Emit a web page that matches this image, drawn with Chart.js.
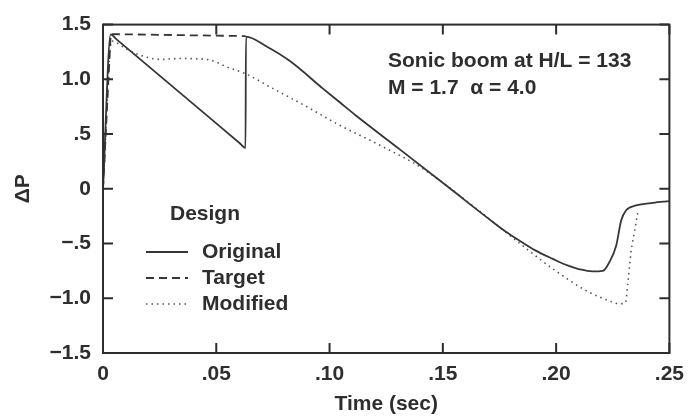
<!DOCTYPE html>
<html><head><meta charset="utf-8">
<script src="https://cdn.jsdelivr.net/npm/chart.js@4/dist/chart.umd.min.js"></script>
<style>html,body{margin:0;padding:0;background:#fff;}#wrap{width:693px;height:417px;}</style>
</head><body><div id="wrap"><canvas id="c" width="693" height="417"></canvas></div>
<script>
// ---- data ----
const originalT = [0, 0.0034, 0.0060, 0.0605, 0.0629, 0.0631, 0.0722, 0.0825, 0.0971, 0.1045, 0.1119, 0.1310, 0.1515, 0.1604, 0.1700, 0.1780, 0.1839, 0.1910, 0.1985, 0.2050, 0.2103, 0.2160, 0.2206, 0.2235, 0.2265, 0.2287, 0.2309, 0.2353, 0.2427, 0.2500];
const originalP = [0, 1.41, 1.365, 0.414, 0.372, 1.39, 1.30, 1.167, 0.915, 0.79, 0.665, 0.36, 0.03, -0.115, -0.27, -0.395, -0.475, -0.565, -0.64, -0.70, -0.735, -0.755, -0.75, -0.67, -0.52, -0.29, -0.196, -0.152, -0.128, -0.113];
const targetT = [0, 0.0034, 0.0630];
const targetP = [0, 1.413, 1.395];
const modifiedT = [0, 0.0038, 0.0097, 0.0156, 0.0259, 0.0330, 0.0406, 0.0479, 0.0552, 0.0626, 0.0751, 0.0898, 0.1045, 0.1192, 0.1295, 0.1368, 0.1471, 0.1604, 0.1780, 0.1883, 0.1985, 0.2132, 0.2230, 0.2280, 0.2306, 0.2316, 0.2331, 0.2345, 0.2360];
const modifiedP = [0, 1.35, 1.286, 1.226, 1.182, 1.19, 1.188, 1.173, 1.108, 1.054, 0.915, 0.752, 0.58, 0.43, 0.32, 0.24, 0.10, -0.11, -0.40, -0.57, -0.73, -0.93, -1.02, -1.05, -1.04, -0.87, -0.57, -0.40, -0.22];

const xTickValues = [0, 0.05, 0.10, 0.15, 0.20, 0.25];
const xTickLabels = ['0', '.05', '.10', '.15', '.20', '.25'];
const yTickValues = [-1.5, -1.0, -0.5, 0, 0.5, 1.0, 1.5];
const yTickLabels = ['\u22121.5', '\u22121.0', '\u2212.5', '0', '.5', '1.0', '1.5'];
const seriesNames = ['Original', 'Target', 'Modified'];
const legendTitle = 'Design';
const annotationLines = ['Sonic boom at H/L = 133', 'M = 1.7  \u03B1 = 4.0'];
const xTitle = 'Time (sec)';
const yTitle = '\u0394P';

// ---- styling ----
const ink = '#2e2e2e';
const FONT = "'Liberation Sans', Arial, Helvetica, sans-serif";
const FS = 21;
const toPts = (ts, ps) => ts.map((t, i) => ({x: t, y: ps[i]}));
const labelFor = (vals, labels, v) => {
  const i = vals.findIndex(u => Math.abs(u - v) < 1e-9);
  return i >= 0 ? labels[i] : '';
};

const framePlugin = {
  id: 'frame',
  afterDatasetsDraw(chart) {
    const {ctx, chartArea: a, scales} = chart;
    const x = scales.x, y = scales.y;
    ctx.save();
    ctx.strokeStyle = ink;
    ctx.lineWidth = 2;
    ctx.setLineDash([]);
    ctx.strokeRect(a.left, a.top, a.right - a.left, a.bottom - a.top);
    const L = 10;
    ctx.beginPath();
    xTickValues.forEach(v => {
      const px = x.getPixelForValue(v);
      ctx.moveTo(px, a.bottom); ctx.lineTo(px, a.bottom - L);
      ctx.moveTo(px, a.top); ctx.lineTo(px, a.top + L);
    });
    yTickValues.forEach(v => {
      const py = y.getPixelForValue(v);
      ctx.moveTo(a.left, py); ctx.lineTo(a.left + L, py);
      ctx.moveTo(a.right, py); ctx.lineTo(a.right - L, py);
    });
    ctx.stroke();

    // annotation
    ctx.fillStyle = ink;
    ctx.font = 'bold ' + FS + 'px ' + FONT;
    ctx.textAlign = 'left';
    ctx.textBaseline = 'middle';
    ctx.fillText(annotationLines[0], 388, 61);
    ctx.fillText(annotationLines[1], 388, 88);

    // legend
    ctx.fillText(legendTitle, 170, 214);
    const rows = [252, 278, 304];
    chart.data.datasets.forEach((ds, i) => {
      ctx.save();
      ctx.strokeStyle = ds.borderColor;
      ctx.lineWidth = ds.borderWidth;
      ctx.setLineDash(ds.borderDash || []);
      ctx.beginPath();
      ctx.moveTo(146, rows[i]); ctx.lineTo(188, rows[i]);
      ctx.stroke();
      ctx.restore();
      ctx.fillText(ds.label, 202, rows[i]);
    });
    ctx.restore();
  }
};

const tickFont = {family: FONT, size: FS, weight: 'bold', lineHeight: 1.2};

new Chart(document.getElementById('c'), {
  type: 'line',
  data: {
    datasets: [
      {label: seriesNames[0], data: toPts(originalT, originalP), borderColor: '#363636', borderWidth: 1.8, cubicInterpolationMode: 'monotone', pointRadius: 0},
      {label: seriesNames[1], data: toPts(targetT, targetP), borderColor: '#363636', borderWidth: 1.8, borderDash: [8, 5], tension: 0, pointRadius: 0},
      {label: seriesNames[2], data: toPts(modifiedT, modifiedP), borderColor: '#555555', borderWidth: 1.6, borderDash: [1.5, 4], cubicInterpolationMode: 'monotone', pointRadius: 0}
    ]
  },
  options: {
    responsive: false,
    devicePixelRatio: 1,
    animation: false,
    layout: {padding: {top: 16, right: 23, left: 0, bottom: 0}},
    plugins: {legend: {display: false}, tooltip: {enabled: false}},
    scales: {
      x: {
        type: 'linear', min: 0, max: 0.25,
        afterBuildTicks: s => { s.ticks = xTickValues.map(v => ({value: v})); },
        afterFit: s => { s.height = 64; },
        grid: {display: false, drawTicks: false},
        border: {display: false},
        ticks: {color: ink, padding: 9, maxRotation: 0, autoSkip: false, font: tickFont,
          callback: v => labelFor(xTickValues, xTickLabels, v)},
        title: {display: true, text: xTitle, color: ink, padding: {top: 0, bottom: 0}, font: tickFont}
      },
      y: {
        type: 'linear', min: -1.5, max: 1.5,
        afterBuildTicks: s => { s.ticks = yTickValues.map(v => ({value: v})); },
        afterFit: s => { s.width = 103; },
        grid: {display: false, drawTicks: false},
        border: {display: false},
        ticks: {color: ink, padding: 12, autoSkip: false, font: tickFont,
          callback: v => labelFor(yTickValues, yTickLabels, v)},
        title: {display: true, text: yTitle, color: ink, padding: {top: 11, bottom: 0}, font: tickFont}
      }
    }
  },
  plugins: [framePlugin]
});
</script></body></html>
